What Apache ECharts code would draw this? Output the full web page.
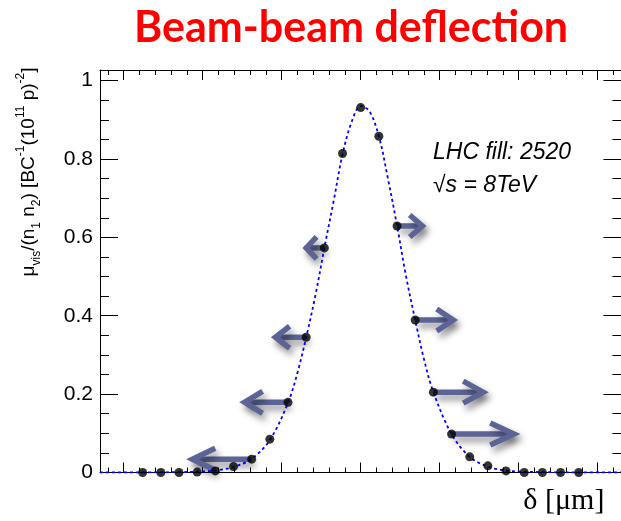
<!DOCTYPE html>
<html><head><meta charset="utf-8">
<script src="https://cdn.jsdelivr.net/npm/echarts@6/dist/echarts.min.js"></script>
<style>html,body{margin:0;padding:0;background:#fff}#c{width:621px;height:521px}</style>
</head><body><div id="c"></div><script>
// ---- data ----
const sepX = [-276,-253,-230,-207,-184,-161,-138,-115,-92,-69,-46,-23,0,23,46,69,92,115,138,161,184,207,230,253,276];
const muVals = [0,0,0,0.001,0.004,0.015,0.034,0.085,0.179,0.345,0.573,0.814,0.931,0.858,0.629,0.389,0.205,0.098,0.040,0.017,0.004,0,0,0,0];
const fitX = [-330,-276,-230,-207,-184,-161,-138,-115,-92,-80,-69,-57,-46,-34,-23,-11,0,11,23,34,46,57,69,80,92,115,138,161,184,207,230,276,330];
const fitY = [0,0,0.001,0.002,0.005,0.014,0.035,0.083,0.178,0.255,0.345,0.455,0.573,0.695,0.812,0.897,0.935,0.922,0.858,0.755,0.630,0.505,0.389,0.290,0.205,0.098,0.040,0.015,0.005,0.002,0.001,0,0];
// deflection arrows: which point they start from, and their length (μm, signed)
const arrowPointIdx = [10, 9, 8, 6, 14, 15, 16, 17];
const arrowDx = [-23, -39, -55, -75, 32, 48, 63, 79];
// axes
const xMin = -330, xMax = 330;
const yMin = 0, yMax = 1.027;
const xMajorTicks = [-300,-200,-100,0,100,200,300];
const xMinorTicks = [-320,-280,-260,-240,-220,-180,-160,-140,-120,-80,-60,-40,-20,20,40,60,80,120,140,160,180,220,240,260,280,320];
const yTicks = [0,0.2,0.4,0.6,0.8,1];
const yTickLabels = ['0','0.2','0.4','0.6','0.8','1'];
const yMinorTicks = [0.05,0.1,0.15,0.25,0.3,0.35,0.45,0.5,0.55,0.65,0.7,0.75,0.85,0.9,0.95];
const titleText = 'Beam-beam deflection';
const yTitle = 'μ{sub|vis}/(n{sub|1} n{sub|2}) [BC{sup|-1}(10{sup|11} p){sup|-2}]';
const xTitle = 'δ [μm]';
const note1 = 'LHC fill: 2520';
const note2 = '√s = 8TeV';

const points = sepX.map((x, i) => [x, muVals[i]]);
const fitData = fitX.map((x, i) => [x, fitY[i]]);
const arrowData = arrowPointIdx.map((p, j) => [sepX[p], muVals[p], sepX[p] + arrowDx[j]]);

const black = '#000';
const grid = {left: 100, top: 70, right: -0.4, bottom: 48.5, outerBoundsMode: 'none', containLabel: false};
function xAx(gi, pos, len, ticks, line, extra) {
  return Object.assign({type: 'value', gridIndex: gi, position: pos, min: xMin, max: xMax,
    splitLine: {show: false}, axisLabel: {show: false},
    axisLine: {show: line, onZero: false, lineStyle: {color: black, width: 1}},
    axisTick: {show: true, inside: true, length: len, customValues: ticks, lineStyle: {color: black, width: 1}}}, extra || {});
}
function yAx(gi, pos, len, ticks, line, extra) {
  return Object.assign({type: 'value', gridIndex: gi, position: pos, min: yMin, max: yMax,
    splitLine: {show: false}, axisLabel: {show: false},
    axisLine: {show: line, onZero: false, lineStyle: {color: black, width: 1}},
    axisTick: {show: true, inside: true, length: len, customValues: ticks, lineStyle: {color: black, width: 1}}}, extra || {});
}

const chart = echarts.init(document.getElementById('c'), null, {renderer: 'canvas'});
chart.setOption({
  backgroundColor: '#fff',
  animation: false,
  grid: [Object.assign({}, grid), Object.assign({}, grid)],
  xAxis: [
    xAx(0, 'bottom', 10, xMajorTicks, true, {
      name: xTitle, nameLocation: 'end', nameGap: -17,
      nameTextStyle: {fontFamily: 'Liberation Serif', fontSize: 30, color: black, align: 'right', verticalAlign: 'top', padding: [14, 0, 0, 0]}
    }),
    xAx(0, 'top', 10, xMajorTicks, true),
    xAx(1, 'bottom', 5, xMinorTicks, false),
    xAx(1, 'top', 5, xMinorTicks, false)
  ],
  yAxis: [
    yAx(0, 'left', 18, yTicks, true, {
      axisLabel: {show: true, customValues: yTicks, margin: 7, fontSize: 21, fontFamily: 'Liberation Sans', color: black,
        formatter: v => yTickLabels[yTicks.findIndex(t => Math.abs(t - v) < 1e-9)] ?? ''}
    }),
    yAx(0, 'right', 18, yTicks, true),
    yAx(1, 'left', 9, yMinorTicks, false),
    yAx(1, 'right', 9, yMinorTicks, false)
  ],
  series: [
    {
      type: 'line', xAxisIndex: 0, yAxisIndex: 0, data: fitData, smooth: 0.35, showSymbol: false, symbol: 'none',
      lineStyle: {color: '#0000ff', width: 1.8, type: [3, 3]}, z: 3, clip: true
    },
    {
      type: 'custom', xAxisIndex: 0, yAxisIndex: 0, data: arrowData, z: 2,
      encode: {x: [0, 2], y: 1},
      renderItem: function (params, api) {
        const p0 = api.coord([api.value(0), api.value(1)]);
        const p1 = api.coord([api.value(2), api.value(1)]);
        const len = Math.abs(p1[0] - p0[0]);
        const dir = p1[0] > p0[0] ? 1 : -1;
        const back = 5 + 0.3 * len, half = 11;
        const st = {stroke: '#5c6496', lineWidth: 5.5, fill: null, lineCap: 'butt', lineJoin: 'miter',
          shadowBlur: 7, shadowColor: 'rgba(0,0,0,0.45)', shadowOffsetX: 3, shadowOffsetY: 5};
        return {type: 'group', children: [
          {type: 'line', shape: {x1: p0[0], y1: p0[1], x2: p1[0] - dir * 2, y2: p1[1]}, style: st},
          {type: 'polyline', shape: {points: [[p1[0] - dir * back, p1[1] - half], [p1[0], p1[1]], [p1[0] - dir * back, p1[1] + half]]}, style: st}
        ]};
      }
    },
    {
      type: 'scatter', xAxisIndex: 0, yAxisIndex: 0, data: points, symbol: 'circle', symbolSize: 9,
      itemStyle: {color: black}, z: 5
    }
  ],
  graphic: [
    {type: 'text', x: 351, y: 28, z: 10, style: {text: titleText, fill: '#ff0000', fontSize: 43, fontWeight: 'bold', fontFamily: 'Lato', align: 'center', verticalAlign: 'middle'}},
    {type: 'text', x: 29, y: 172, rotation: Math.PI / 2, z: 10, style: {
      text: yTitle, fill: black, fontSize: 19, fontFamily: 'Liberation Sans', lineHeight: 28, align: 'center', verticalAlign: 'middle',
      rich: {
        sub: {fontSize: 12, fontFamily: 'Liberation Sans', fill: black, lineHeight: 6, verticalAlign: 'bottom'},
        sup: {fontSize: 12, fontFamily: 'Liberation Sans', fill: black, lineHeight: 12, verticalAlign: 'top'}
      }}},
    {type: 'text', x: 433, y: 153, z: 10, style: {text: note1, fill: black, fontSize: 23, fontStyle: 'italic', fontFamily: 'Liberation Sans', align: 'left', verticalAlign: 'middle'}},
    {type: 'text', x: 433, y: 186, z: 10, style: {text: note2, fill: black, fontSize: 23, fontStyle: 'italic', fontFamily: 'Liberation Sans', align: 'left', verticalAlign: 'middle'}}
  ]
});
</script></body></html>
